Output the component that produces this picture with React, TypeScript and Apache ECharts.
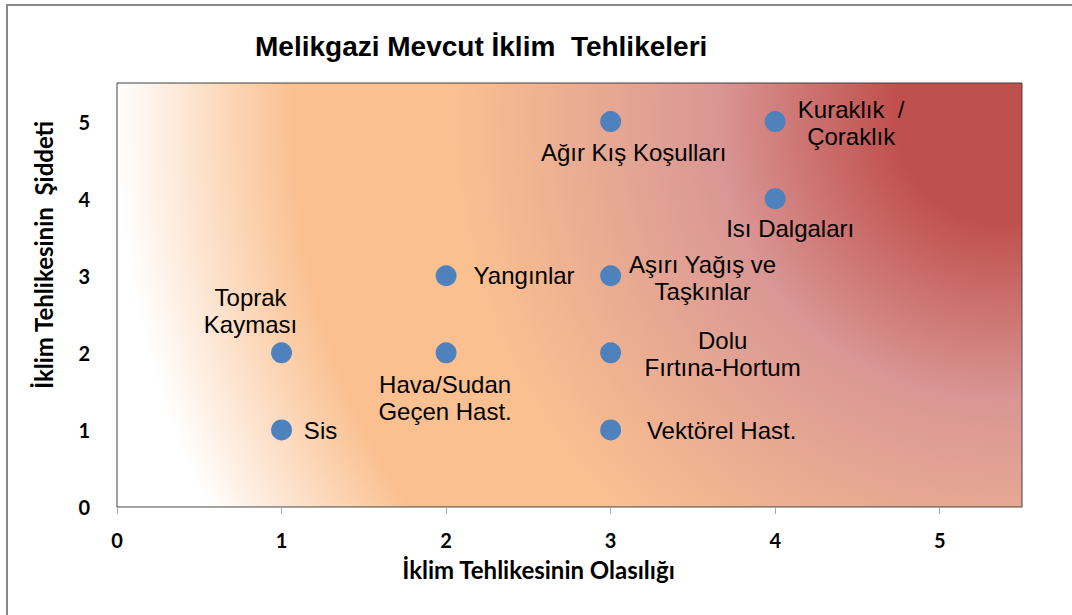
import React, { useEffect, useRef } from "react";
import * as echarts from "echarts";

// ---- data ----
const hazardNames = [
  "Sis",
  "Toprak\nKayması",
  "Hava/Sudan\nGeçen Hast.",
  "Yangınlar",
  "Vektörel Hast.",
  "Dolu\nFırtına-Hortum",
  "Aşırı Yağış ve\nTaşkınlar",
  "Ağır Kış Koşulları",
  "Kuraklık  /\nÇoraklık",
  "Isı Dalgaları",
];
const probability = [1, 1, 2, 2, 3, 3, 3, 3, 4, 4];
const severity = [1, 2, 2, 3, 1, 2, 3, 5, 5, 4];
const xTickValues = [0, 1, 2, 3, 4, 5];
const yTickValues = [0, 1, 2, 3, 4, 5];

const titleText = "Melikgazi Mevcut İklim  Tehlikeleri";
const xAxisTitle = "İklim Tehlikesinin Olasılığı";
const yAxisTitle = "İklim Tehlikesinin  Şiddeti";

// ---- label placement (style) ----
const labelOffsets: Record<string, [number, number]> = {
  "Sis": [39, 1],
  "Toprak\nKayması": [-31, -42],
  "Hava/Sudan\nGeçen Hast.": [-1, 45],
  "Yangınlar": [78, 0],
  "Vektörel Hast.": [111, 1],
  "Dolu\nFırtına-Hortum": [112, 1],
  "Aşırı Yağış ve\nTaşkınlar": [92, 2],
  "Ağır Kış Koşulları": [23, 31],
  "Kuraklık  /\nÇoraklık": [76, 1],
  "Isı Dalgaları": [15, 30],
};

const W = 1072;
const H = 615;
const GRID = { left: 117, top: 83, right: 50, bottom: 108 };

export default function App() {
  const ref = useRef<HTMLDivElement>(null);

  useEffect(() => {
    if (!ref.current) return;
    const chart = echarts.init(ref.current, undefined, { renderer: "svg" });

    const gw = W - GRID.left - GRID.right;
    const gh = H - GRID.top - GRID.bottom;
    const cx = GRID.left + 0.977 * gw;
    const cy = GRID.top + 0.08 * gh;
    const r = 0.978 * gw;

    const bg = {
      type: "radial",
      x: cx,
      y: cy,
      r: r,
      global: true,
      colorStops: [
        { offset: 0, color: "#C0504D" },
        { offset: 0.12, color: "#C0504D" },
        { offset: 0.32, color: "#D99694" },
        { offset: 0.62, color: "#FAC090" },
        { offset: 0.8, color: "#FAC090" },
        { offset: 1, color: "#FFFFFF" },
      ],
    };

    const data = hazardNames.map((n, i) => ({
      name: n,
      value: [probability[i], severity[i]],
      label: {
        offset: labelOffsets[n] || [0, 0],
      },
    }));

    const axisFont = {
      fontFamily: "Lato, sans-serif",
      fontWeight: "bold",
      color: "#000000",
    };

    chart.setOption({
      animation: false,
      backgroundColor: "#FFFFFF",
      title: {
        text: titleText,
        left: 250,
        top: 27,
        textStyle: {
          fontFamily: "Liberation Sans, Arial, sans-serif",
          fontWeight: "bold",
          fontSize: 28,
          color: "#000000",
        },
      },
      graphic: [
        {
          type: "rect",
          shape: { x: 7, y: 5, width: 1200, height: 800 },
          style: { fill: "none", stroke: "#878787", lineWidth: 2 },
          silent: true,
          z: 100,
        },
      ],
      grid: {
        left: GRID.left,
        top: GRID.top,
        right: GRID.right,
        bottom: GRID.bottom,
        show: true,
        backgroundColor: bg,
        borderColor: "#404040",
        borderWidth: 1,
      },
      xAxis: {
        type: "value",
        min: 0,
        max: 5.5,
        interval: 1,
        name: xAxisTitle,
        nameLocation: "middle",
        nameGap: 50,
        nameTextStyle: { ...axisFont, fontSize: 24, padding: [0, 62, 0, 0] },
        axisLine: { show: true, lineStyle: { color: "#A6A6A6", width: 1 } },
        axisTick: {
          show: true,
          length: 7,
          customValues: xTickValues,
          lineStyle: { color: "#A6A6A6" },
        },
        axisLabel: {
          ...axisFont,
          customValues: xTickValues,
          margin: 23,
          fontSize: 20,
        },
        splitLine: { show: false },
      },
      yAxis: {
        type: "value",
        min: 0,
        max: 5.5,
        interval: 1,
        name: yAxisTitle,
        nameLocation: "middle",
        nameRotate: 90,
        nameGap: 62,
        nameTextStyle: { ...axisFont, fontSize: 24, padding: [0, 0, 0, 80] },
        axisLine: { show: false },
        axisTick: { show: false },
        axisLabel: {
          ...axisFont,
          customValues: yTickValues,
          margin: 27,
          fontSize: 20,
        },
        splitLine: { show: false },
      },
      series: [
        {
          type: "scatter",
          symbol: "circle",
          symbolSize: 21,
          itemStyle: { color: "#4F81BD", opacity: 1 },
          label: {
            show: true,
            position: "inside",
            formatter: "{b}",
            align: "center",
            verticalAlign: "middle",
            fontFamily: "Liberation Sans, Arial, sans-serif",
            fontSize: 24,
            lineHeight: 27,
            color: "#000000",
          },
          data: data,
        },
      ],
    });

    return () => {
      chart.dispose();
    };
  }, []);

  return (
    <div
      ref={ref}
      style={{ position: "absolute", left: 0, top: 0, width: W, height: H }}
    />
  );
}
